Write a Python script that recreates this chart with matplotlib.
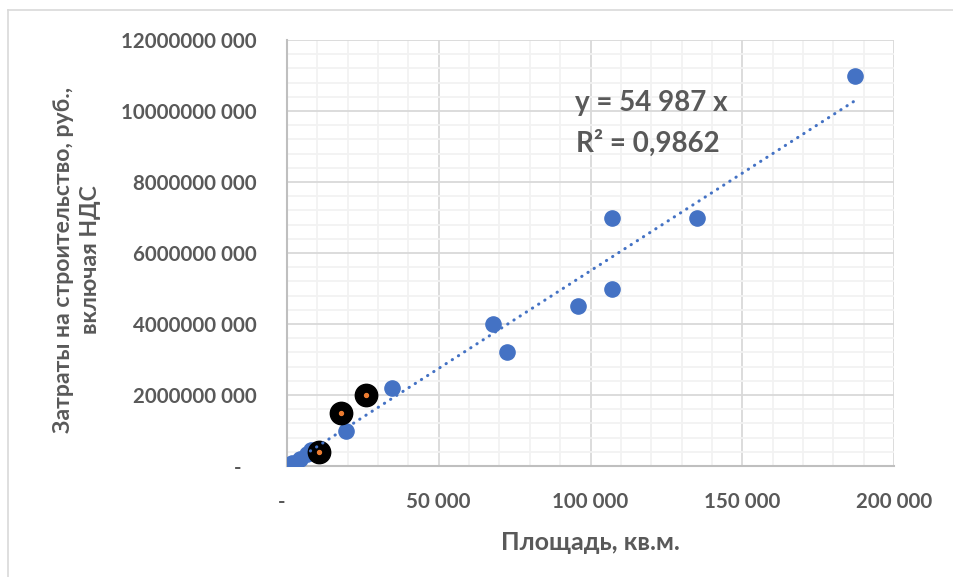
import numpy as np
import matplotlib.pyplot as plt
from matplotlib.ticker import MultipleLocator, FuncFormatter
from matplotlib.lines import Line2D

plt.rcParams['font.family'] = ['Lato', 'DejaVu Sans']
plt.rcParams['font.weight'] = 'bold'

# площадь, кв.м. / затраты, руб.
area = [1600, 4200, 6500, 8000, 19500, 34500, 68000, 72500, 96000,
        107000, 107000, 135000, 187000]
cost = [0.08e9, 0.2e9, 0.33e9, 0.45e9, 1.0e9, 2.2e9, 4.0e9, 3.2e9, 4.5e9,
        5.0e9, 7.0e9, 7.0e9, 11.0e9]

# выделенные объекты
area_hl = [10500, 17800, 26000]
cost_hl = [0.4e9, 1.5e9, 2.0e9]

slope = 54987
eq_text = "y = 54 987 x"
r2_text = "R² = 0,9862"

grey = "#595959"
blue = "#4472C4"
orange = "#ED7D31"


def y_fmt(v, pos):
    if v == 0:
        return "-   "
    v = int(round(v))
    return "%d %03d" % (v // 1000, v % 1000)


def x_fmt(v, pos):
    if v == 0:
        return "-  "
    return "{:,.0f}".format(v).replace(",", " ")


fig = plt.figure(figsize=(9.54, 5.77), dpi=100)
ax = fig.add_axes([287 / 954, 1 - 466 / 577, 607 / 954, 426 / 577])

ax.set_xlim(0, 200000)
ax.set_ylim(0, 12e9)
ax.xaxis.set_major_locator(MultipleLocator(50000))
ax.xaxis.set_minor_locator(MultipleLocator(10000))
ax.yaxis.set_major_locator(MultipleLocator(2e9))
ax.yaxis.set_minor_locator(MultipleLocator(0.4e9))
ax.xaxis.set_major_formatter(FuncFormatter(x_fmt))
ax.yaxis.set_major_formatter(FuncFormatter(y_fmt))

ax.grid(which="major", color="#D9D9D9", linewidth=1.3)
ax.grid(which="minor", color="#F2F2F2", linewidth=1.3)
ax.set_axisbelow(True)
for s in ["top", "right"]:
    ax.spines[s].set_visible(False)
for s in ["left", "bottom"]:
    ax.spines[s].set_color("#BFBFBF")
    ax.spines[s].set_linewidth(1.5)
ax.tick_params(which="both", length=0, labelsize=14.8, labelcolor=grey)
ax.tick_params(axis="x", pad=19)
ax.tick_params(axis="y", pad=22)
for lbl in ax.get_xticklabels() + ax.get_yticklabels():
    lbl.set_fontweight("bold")

ax.scatter(area, cost, s=120, color=blue, zorder=3)
ax.scatter(area_hl, cost_hl, s=260, color="black", zorder=4)
ax.scatter(area_hl, cost_hl, s=8, color=orange, zorder=5)

xt = np.array([min(area), max(area)])
ax.plot(xt, slope * xt, color=blue, linewidth=2.2,
        linestyle=(0, (0.1, 2.3)), dash_capstyle="round", zorder=6)

ax.text(651, 577 - 103, eq_text, transform=None, fontsize=20, color=grey,
        ha="center", va="center", fontweight="bold")
ax.text(648, 577 - 143, r2_text, transform=None, fontsize=20, color=grey,
        ha="center", va="center", fontweight="bold")

fig.text(590 / 954, 1 - 542 / 577, "Площадь, кв.м.", fontsize=18,
         color=grey, ha="center", va="center", fontweight="bold")
fig.text(77 / 954, 1 - 260 / 577,
         "Затраты на строительство, руб.,\nвключая НДС", fontsize=16.6,
         color=grey, ha="center", va="center", rotation=90,
         linespacing=1.35, fontweight="bold")

# рамка диаграммы
fig.add_artist(Line2D([8 / 954, 8 / 954], [0, 1 - 10 / 577],
                      transform=fig.transFigure, color="#D9D9D9", lw=1.2))
fig.add_artist(Line2D([8 / 954, 1], [1 - 10 / 577, 1 - 10 / 577],
                      transform=fig.transFigure, color="#D9D9D9", lw=1.2))

fig.savefig("out.png", dpi=100)
